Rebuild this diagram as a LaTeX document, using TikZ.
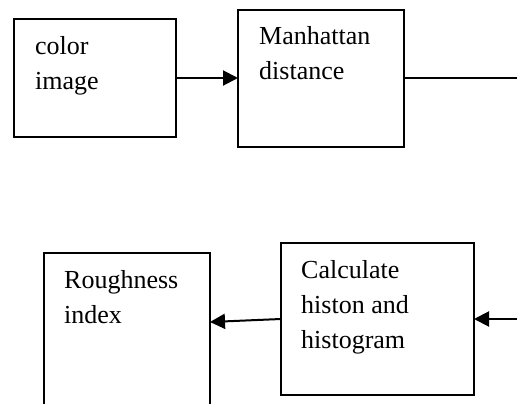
\documentclass[tikz,border=0pt]{standalone}
\usepackage{fontspec}
\setmainfont{Liberation Serif}
\usetikzlibrary{arrows.meta,calc}
\begin{document}
\begin{tikzpicture}[x=1pt,y=-1pt,
  box/.style={draw=black,line width=2pt,anchor=north west,inner sep=0pt,outer sep=0pt},
  txt/.style={anchor=base west,inner sep=0pt,font=\fontsize{26}{35}\selectfont},
  conn/.style={line width=2pt},
  arr/.style={conn,-{Triangle[length=15pt,width=15pt]}}]
\useasboundingbox (0,0) rectangle (517,404);
\clip (0,0) rectangle (517,404);
% boxes
\node[box,minimum width=162pt,minimum height=118pt] (b1) at (14,19) {};
\node[box,minimum width=166pt,minimum height=137pt] (b2) at (238,10) {};
\node[box,minimum width=166pt,minimum height=170pt] (b3) at (44,253) {};
\node[box,minimum width=193pt,minimum height=152pt] (b4) at (281,243) {};
% texts
\node[txt] (t1a) at (35,55) {color};
\node[txt] (t1b) at (35,90) {image};
\node[txt] (t2a) at (259,45) {Manhattan};
\node[txt] (t2b) at (259,80) {distance};
\node[txt] (t3a) at (64,288) {Roughness};
\node[txt] (t3b) at (64,323) {index};
\node[txt] (t4a) at (301,278) {Calculate};
\node[txt] (t4b) at (301,313) {histon and};
\node[txt] (t4c) at (301,348) {histogram};
% connectors
\coordinate (r1) at (518,78);
\coordinate (r2) at (518,319);
\coordinate (b3in) at ($(b3.north east)+(0,69)$);
\draw[arr] (b1.east) -- (b1.east -| b2.west);
\draw[conn] (b2.east |- r1) -- (r1);
\draw[arr] (r2) -- (r2 -| b4.east);
\draw[arr] (b4.west) -- (b3in);
\end{tikzpicture}
\end{document}
